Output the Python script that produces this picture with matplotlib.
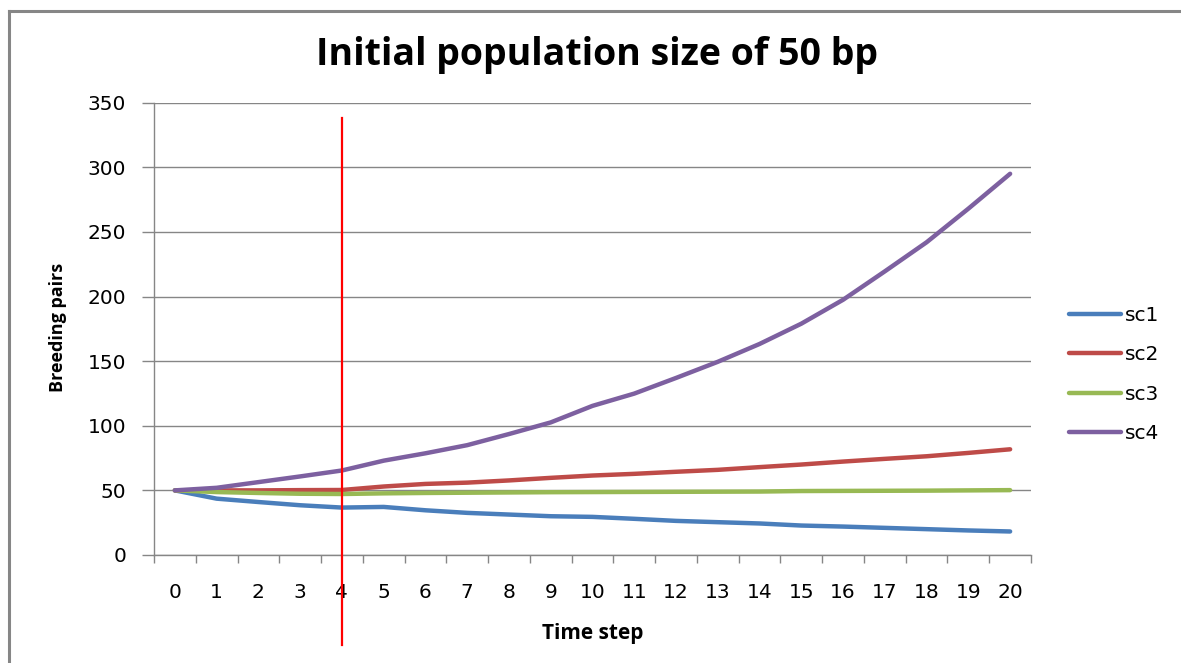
import matplotlib
matplotlib.use("Agg")
import matplotlib.pyplot as plt
from matplotlib.lines import Line2D

# time steps and breeding pair counts per scenario
steps = list(range(21))
sc1 = [50, 43.6, 41, 38.5, 36.7, 37.2, 34.6, 32.6, 31.3, 30, 29.5, 28, 26.4,
       25.4, 24.4, 22.8, 22, 21, 20, 19, 18.2]
sc2 = [50, 50, 50, 50.2, 50.3, 53, 55, 56, 57.7, 59.7, 61.5, 62.8, 64.4,
       65.9, 68, 70, 72.3, 74.4, 76.4, 79, 81.8]
sc3 = [50, 48.7, 48, 47.4, 47.2, 47.7, 48, 48.2, 48.4, 48.6, 48.7, 48.8,
       48.9, 49, 49.1, 49.5, 49.6, 49.7, 49.8, 50, 50.2]
sc4 = [50, 52, 56.4, 60.8, 65.4, 73, 78.7, 85, 93.6, 102.6, 115.4, 124.9,
       137, 149.5, 163.3, 179, 197.5, 219.5, 242, 268, 295]
series_names = ["sc1", "sc2", "sc3", "sc4"]
y_ticks = [0, 50, 100, 150, 200, 250, 300, 350]
marker_step = 4

colors = ["#4A7EBB", "#BE4B48", "#98B954", "#7D60A0"]
grey = "#868686"

W, H = 1181, 663
fig = plt.figure(figsize=(W / 100, H / 100), dpi=100)
ax = fig.add_axes([154 / W, 1 - 555 / H, (1031 - 154) / W, (555 - 102.7) / H])

for vals, name, c in zip([sc1, sc2, sc3, sc4], series_names, colors):
    ax.plot(steps, vals, color=c, lw=3.2, solid_capstyle="round", label=name, zorder=3)

ax.set_xlim(-0.5, 20.5)
ax.set_ylim(0, 350)
ax.set_yticks(y_ticks)
ax.set_yticklabels([str(v) for v in y_ticks])
ax.yaxis.grid(True, color=grey, lw=1)
ax.set_axisbelow(True)

# category axis: ticks between categories, labels on categories
ax.set_xticks([s - 0.5 for s in steps] + [steps[-1] + 0.5])
ax.set_xticklabels([])
ax.set_xticks(steps, minor=True)
ax.set_xticklabels([str(s) for s in steps], minor=True)
ax.tick_params(axis="x", which="major", length=6, color=grey, width=1)
ax.tick_params(axis="x", which="minor", length=0, pad=20, labelsize=14.5)
ax.tick_params(axis="y", length=9, color=grey, width=1, pad=11, labelsize=14.5)

for side in ["top", "right"]:
    ax.spines[side].set_visible(False)
for side in ["left", "bottom"]:
    ax.spines[side].set_color(grey)
    ax.spines[side].set_linewidth(1)

# vertical marker line at time step 4
ax.axvline(marker_step, ymin=-0.199, ymax=0.966, color="#FF0000", lw=1.6,
           clip_on=False, zorder=4)

fig.text(597.5 / W, 1 - 65 / H, "Initial population size of 50 bp",
         ha="center", va="baseline", fontsize=27, fontweight="bold", family="Open Sans")
fig.text(593 / W, 1 - 639 / H, "Time step", ha="center", va="baseline",
         fontsize=15, fontweight="bold", family="Open Sans")
fig.text(58 / W, 1 - 327 / H, "Breeding pairs", ha="center", va="center",
         rotation=90, fontsize=13, fontweight="bold", family="Open Sans")

ax.legend(loc="center left", bbox_to_anchor=(1069 / W, 1 - 374.5 / H),
          bbox_transform=fig.transFigure, frameon=False, borderpad=0,
          borderaxespad=0, handlelength=2.6, handletextpad=0.2,
          labelspacing=1.0, fontsize=14.5)

# outer chart frame (only top and left edges are visible in the crop)
fig.add_artist(Line2D([9 / W, 9 / W], [0, 1 - 11 / H], color=grey, lw=2.2,
                      transform=fig.transFigure))
fig.add_artist(Line2D([9 / W, 1], [1 - 11 / H, 1 - 11 / H], color=grey, lw=2.2,
                      transform=fig.transFigure))

fig.savefig("out.png", dpi=100, facecolor="white")
